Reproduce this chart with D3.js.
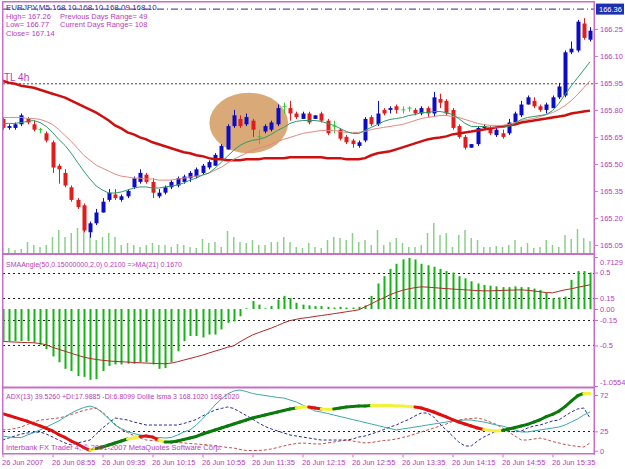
<!DOCTYPE html>
<html><head><meta charset="utf-8">
<script src="https://cdn.jsdelivr.net/npm/d3@7"></script>
<style>
body{margin:0;background:#fff}
svg{display:block}
text{font-family:"Liberation Sans",Arial,sans-serif}
</style>
</head><body><svg id="c" width="625" height="469"></svg>
<script>
// ---------------- DATA ----------------
const xLabels = ["26 Jun 2007","26 Jun 08:55","26 Jun 09:35","26 Jun 10:15","26 Jun 10:55","26 Jun 11:35","26 Jun 12:15","26 Jun 12:55","26 Jun 13:35","26 Jun 14:15","26 Jun 14:55","26 Jun 15:35"];
const xLabelBars = [0,8,16,24,32,40,48,56,64,72,80,88];

const open = [165.75,165.70,165.70,165.72,165.75,165.72,165.69,165.67,165.62,165.49,
165.45,165.37,165.30,165.27,165.12,165.17,165.23,165.30,165.33,165.30,
165.32,165.37,165.40,165.44,165.40,165.32,165.34,165.37,165.38,165.40,
165.42,165.43,165.45,165.48,165.49,165.53,165.58,165.71,165.75,165.72,
165.74,165.65,165.68,165.69,165.72,165.82,165.81,165.78,165.75,165.78,
165.75,165.78,165.74,165.71,165.69,165.65,165.63,165.60,165.63,165.76,
165.72,165.80,165.80,165.82,165.80,165.81,165.80,165.78,165.81,165.78,
165.86,165.85,165.80,165.71,165.65,165.59,165.61,165.70,165.70,165.66,
165.67,165.67,165.73,165.77,165.83,165.85,165.82,165.80,165.81,165.87,
165.88,166.12,166.13,166.28,166.19];
const high = [165.76,165.72,165.73,165.78,165.76,165.74,165.70,165.68,165.63,165.50,
165.47,165.38,165.31,165.28,165.18,165.25,165.31,165.36,165.36,165.33,
165.36,165.43,165.47,165.45,165.42,165.36,165.38,165.41,165.43,165.44,
165.46,165.48,165.50,165.52,165.56,165.61,165.72,165.80,165.77,165.78,
165.75,165.69,165.72,165.74,165.83,165.84,165.85,165.79,165.79,165.79,
165.77,165.79,165.75,165.74,165.70,165.66,165.64,165.63,165.76,165.77,
165.85,165.81,165.82,165.83,165.82,165.82,165.81,165.82,165.82,165.90,
165.89,165.86,165.81,165.72,165.66,165.61,165.71,165.72,165.71,165.70,
165.69,165.75,165.79,165.85,165.88,165.87,165.83,165.84,165.88,165.95,
166.13,166.18,166.30,166.31,166.26];
const low = [165.69,165.69,165.69,165.71,165.72,165.68,165.67,165.62,165.45,165.39,
165.37,165.29,165.25,165.12,165.09,165.16,165.23,165.29,165.30,165.29,
165.31,165.36,165.39,165.39,165.31,165.31,165.33,165.36,165.37,165.39,
165.40,165.42,165.44,165.47,165.49,165.52,165.58,165.70,165.70,165.71,
165.65,165.61,165.67,165.68,165.71,165.78,165.74,165.75,165.75,165.72,
165.75,165.73,165.66,165.67,165.63,165.61,165.59,165.59,165.62,165.71,
165.71,165.77,165.78,165.78,165.78,165.79,165.77,165.77,165.76,165.76,
165.81,165.77,165.69,165.64,165.58,165.59,165.60,165.69,165.66,165.65,
165.64,165.66,165.72,165.76,165.83,165.81,165.79,165.78,165.81,165.86,
165.87,166.11,166.12,166.19,166.18];
const close = [165.70,165.71,165.72,165.77,165.73,165.69,165.69,165.63,165.48,165.47,
165.38,165.30,165.26,165.13,165.17,165.23,165.29,165.34,165.31,165.32,
165.35,165.42,165.45,165.40,165.34,165.34,165.37,165.40,165.42,165.43,
165.45,165.47,165.49,165.51,165.55,165.60,165.71,165.77,165.71,165.76,
165.69,165.65,165.71,165.73,165.81,165.82,165.78,165.76,165.78,165.73,
165.77,165.74,165.67,165.71,165.64,165.62,165.61,165.62,165.75,165.72,
165.78,165.78,165.81,165.80,165.80,165.81,165.78,165.81,165.78,165.87,
165.84,165.78,165.70,165.65,165.59,165.61,165.70,165.71,165.67,165.69,
165.65,165.73,165.78,165.83,165.87,165.82,165.80,165.83,165.87,165.93,
166.12,166.14,166.29,166.20,166.24];
const volume = [6,5,3,4,11,8,6,8,16,23,
16,20,25,23,20,13,16,20,16,8,
10,8,6,8,10,8,8,6,9,8,
6,5,14,10,11,6,22,16,11,10,
13,8,8,11,11,16,11,6,5,10,
6,5,13,16,15,13,20,11,13,8,
23,8,11,15,10,6,6,8,20,30,
18,20,6,18,23,15,13,6,6,7,
6,8,13,6,10,5,6,13,8,6,
18,14,24,15,12];
const maFast = [165.725,165.725,165.725,165.730,165.736,165.741,165.730,165.708,165.675,165.636,
165.603,165.559,165.509,165.460,165.416,165.377,165.355,165.338,165.338,165.344,
165.355,165.366,165.372,165.372,165.366,165.366,165.372,165.377,165.383,165.394,
165.410,165.421,165.438,165.449,165.476,165.509,165.543,165.576,165.603,165.620,
165.631,165.636,165.647,165.664,165.686,165.703,165.725,165.736,165.741,165.741,
165.741,165.736,165.725,165.714,165.697,165.680,165.669,165.669,165.686,165.703,
165.719,165.736,165.747,165.752,165.758,165.769,165.774,165.785,165.785,165.791,
165.791,165.785,165.774,165.752,165.725,165.708,165.708,165.708,165.703,165.703,
165.703,165.708,165.725,165.747,165.758,165.763,165.769,165.774,165.796,165.835,
165.885,165.934,165.978,166.022,166.067];
const maMid = [165.758,165.758,165.758,165.758,165.752,165.752,165.747,165.736,165.719,165.691,
165.658,165.625,165.587,165.548,165.520,165.493,165.476,165.460,165.443,165.432,
165.427,165.421,165.421,165.416,165.416,165.410,165.410,165.410,165.416,165.421,
165.427,165.432,165.438,165.449,165.465,165.482,165.504,165.526,165.543,165.559,
165.576,165.587,165.598,165.609,165.625,165.636,165.647,165.658,165.669,165.675,
165.680,165.686,165.686,165.686,165.680,165.675,165.675,165.675,165.680,165.691,
165.697,165.703,165.708,165.714,165.719,165.730,165.741,165.752,165.758,165.763,
165.769,165.769,165.763,165.758,165.747,165.736,165.725,165.719,165.714,165.714,
165.714,165.719,165.730,165.741,165.747,165.752,165.763,165.774,165.785,165.802,
165.824,165.851,165.885,165.923,165.962];
const maSlow = [165.962,165.951,165.945,165.934,165.929,165.923,165.912,165.901,165.890,165.879,
165.868,165.851,165.835,165.818,165.802,165.785,165.763,165.741,165.714,165.697,
165.675,165.664,165.647,165.636,165.620,165.609,165.598,165.587,165.576,165.565,
165.559,165.548,165.543,165.532,165.526,165.526,165.520,165.520,165.520,165.526,
165.526,165.526,165.532,165.532,165.532,165.532,165.537,165.537,165.537,165.537,
165.537,165.537,165.532,165.532,165.532,165.526,165.526,165.526,165.532,165.548,
165.559,165.565,165.570,165.581,165.592,165.603,165.614,165.625,165.636,165.642,
165.647,165.653,165.664,165.669,165.675,165.680,165.686,165.691,165.697,165.703,
165.708,165.714,165.719,165.730,165.736,165.741,165.747,165.752,165.758,165.763,
165.769,165.780,165.785,165.791,165.796];
const lastPrice = 166.36;
const trendLevel = 165.945;
const priceTicks = [166.25,166.10,165.95,165.80,165.65,165.50,165.35,165.20,165.05];
// highlighted ellipse anchors (bar index / price)
const ellipseBars = [33.1, 45.7];
const ellipsePrices = [165.895, 165.559];

const smaAngle = [-0.44,-0.44,-0.44,-0.44,-0.44,-0.46,-0.49,-0.55,-0.65,-0.73,
-0.82,-0.85,-0.92,-0.93,-0.97,-0.96,-0.85,-0.78,-0.76,-0.76,
-0.75,-0.75,-0.73,-0.73,-0.76,-0.82,-0.81,-0.73,-0.58,-0.44,
-0.37,-0.37,-0.39,-0.35,-0.35,-0.28,-0.19,-0.17,-0.10,0.01,
0.11,0.06,0.01,0.04,0.13,0.18,0.15,0.085,0.06,0.05,
0.04,0.04,0.03,0.02,0.03,0.02,0.02,0.03,0.05,0.18,
0.35,0.45,0.55,0.62,0.68,0.70,0.68,0.62,0.60,0.58,
0.55,0.52,0.50,0.45,0.42,0.38,0.35,0.33,0.32,0.31,
0.30,0.30,0.31,0.30,0.30,0.28,0.26,0.22,0.15,0.16,
0.17,0.40,0.52,0.52,0.50];
const smaAngleMA = [-0.445,-0.449,-0.453,-0.458,-0.46,-0.463,-0.473,-0.49,-0.525,-0.552,
-0.579,-0.607,-0.634,-0.659,-0.678,-0.692,-0.703,-0.712,-0.718,-0.723,
-0.727,-0.733,-0.737,-0.741,-0.745,-0.748,-0.751,-0.741,-0.723,-0.70,
-0.678,-0.655,-0.632,-0.604,-0.577,-0.552,-0.525,-0.504,-0.449,-0.401,
-0.356,-0.323,-0.292,-0.262,-0.227,-0.189,-0.159,-0.141,-0.126,-0.116,
-0.101,-0.09,-0.077,-0.064,-0.052,-0.038,-0.025,-0.011,0.03,0.071,
0.115,0.153,0.195,0.229,0.256,0.277,0.293,0.304,0.30,0.293,
0.286,0.279,0.274,0.268,0.263,0.258,0.252,0.249,0.249,0.252,
0.255,0.258,0.26,0.263,0.256,0.247,0.236,0.225,0.222,0.242,
0.263,0.277,0.297,0.315,0.332];
const smaTicks = [0.7129,0.5,0.15,0,-0.15,-0.5,-1.0554];
const smaTickLabels = ["0.7129","0.5","0.15","0.00","-0.15","-0.5","-1.0554"];
const smaLevels = [0.5,0.15,-0.15,-0.5];

const lsmaLine = [48,45.5,43,40.5,38,35,32,29,25.5,20.9,
17.1,12.5,8.7,4.1,0.5,2.8,4.8,7.4,10,12.5,
15.1,16.4,18.4,19,17.7,13.8,11.2,11.2,12.5,14.5,
16.4,18.4,21.6,24.2,26.8,29.3,31.9,34.5,37.1,39.7,
42.3,44.2,46.1,48.1,50,52,53.9,55.2,56.5,56.5,
55.2,53.9,53.3,53.9,55.2,56.5,57.2,57.8,57.8,58.5,
58.5,58.5,58.5,57.8,57.8,57.2,56.5,55.2,52.6,50,
46.8,43.6,40.3,37.1,34.5,31.9,29.3,27.4,26.1,25.5,
26.1,28,30,32,34,37,40,44,47,51,
57,64,71,74,74];
const lsmaTrend = "rrrrrrrrrrrrrrrygggggyyrrrygggggggggggggggggggggyyrryyggggggyyyyyyyrrrrrrrrrrryyygggggggggggggyr".split("");
const adxMain = [19,17.7,17.1,17.1,20.3,23.5,26.8,30.6,34.5,38.4,
43.6,48.7,52.6,55.8,57.8,55.2,48.7,41,33.2,28.7,
24.8,22.2,20.3,18.4,17.7,17.1,16.4,17.1,20.3,24.2,
26.8,33.2,41,50,59.1,66.8,73.3,77.2,78.5,76.5,
73.9,72.6,71.4,70.1,68.8,68.1,65.5,63,59.1,55.2,
51.3,50,48.1,46.1,44.2,42.3,40.3,38.4,36.5,34.5,
32.6,30.6,28.7,26.8,28.1,29.3,30.6,31.9,33.2,34.5,
35.8,37.1,38.4,39,39.7,39.7,38.4,37.1,35.2,33.2,
31.9,29.3,26.8,24.2,24.2,25.5,26.8,28.1,29.3,30.6,
33.2,37.1,41,46.1,50];
const plusDI = [13.8,16.4,19,21.6,22.9,23.5,24.2,21.6,17.7,13.8,
10,7.4,10,11.9,13.8,21.6,29.3,35.8,42.3,41,
39.7,37.1,35.2,33.2,33.2,33.2,33.2,33.2,33.2,35.2,
37.7,40.3,44.9,48.7,52.6,54.6,56.5,54.6,50,45.5,
41,35.8,31.3,28.1,25.5,22.9,20.3,19,17.7,16.4,
15.1,13.8,13.8,13.8,13.8,13.8,15.1,17.7,19,21.6,
24.2,27.4,30.6,33.2,37.1,40.3,44.9,48.7,48.7,43.6,
34.5,26.8,19,11.2,6.1,6.1,12.5,17.7,21.6,25.5,
26.8,25.5,24.2,25.5,29.3,31.9,33.2,35.8,38.4,39.7,
44.9,50,53.9,55.2,42.3];
const minusDI = [26.8,27.4,28.7,30.6,33.9,37.1,39.7,40.3,41.6,42.3,
44.2,46.8,49.4,52,53.9,54.6,50,42.3,34.5,27.4,
23.5,19.6,16.4,13.8,13.2,12.5,11.9,11.2,10.6,10,
9.3,8.7,8,7.4,6.7,5.4,4.1,3.5,1.6,0.3,
0.2,0.3,0.9,2.2,4.1,6.1,8,9.3,10,9.3,
8.7,8.7,10,11.2,12.5,13.8,12.5,11.2,10,10.6,
11.9,13.2,13.8,15.1,17.1,19,21.6,24.2,26.8,29.3,
31.9,34.5,37.7,39.7,41,41.6,42.3,40.3,37.1,33.9,
29.3,24.2,19,13.8,13.8,15.1,16.4,14.5,11.9,10,
8,6.7,5.4,4.8,10];
const adxTicks = [72,25,0];
const adxLevel = 25;

// ---------------- DRAW ----------------
const FRAME = "#c86ec8", TXT = "#b83cb8";
const svg = d3.select("#c");
svg.append("rect").attr("width",625).attr("height",469).attr("fill","#fff");

const N = open.length;
const x = d3.scaleLinear().domain([0, N-1]).range([2.5, 590]);
const y1 = d3.scaleLinear().domain([165.05, 166.36]).range([244.9, 9.1]);
const yv = d3.scaleLinear().domain([0, 40]).range([253, 213]);
const y2 = d3.scaleLinear().domain([-1.0554, 0.7129]).range([386, 257]);
const y3 = d3.scaleLinear().domain([0, 72]).range([450.7, 395]);

const defs = svg.append("defs");
function clip(id, y0, y1_){
  defs.append("clipPath").attr("id",id).append("rect")
    .attr("x",3).attr("y",y0).attr("width",591).attr("height",y1_-y0);
  return svg.append("g").attr("clip-path",`url(#${id})`);
}
const g1 = clip("p1", 2, 253);
const g2 = clip("p2", 255, 386.5);
const g3 = clip("p3", 388.5, 453.5);

// ---- Top panel
g1.append("ellipse")
  .attr("cx",(x(ellipseBars[0])+x(ellipseBars[1]))/2)
  .attr("cy",(y1(ellipsePrices[0])+y1(ellipsePrices[1]))/2)
  .attr("rx",(x(ellipseBars[1])-x(ellipseBars[0]))/2)
  .attr("ry",(y1(ellipsePrices[1])-y1(ellipsePrices[0]))/2)
  .attr("fill","#d9aa78");

g1.append("line").attr("x1",3).attr("x2",594).attr("y1",y1(lastPrice)).attr("y2",y1(lastPrice))
  .attr("stroke","#2a2a8c").attr("stroke-width",1).attr("stroke-dasharray","7,3,1,3");
g1.append("line").attr("x1",3).attr("x2",594).attr("y1",y1(trendLevel)).attr("y2",y1(trendLevel))
  .attr("stroke","#444").attr("stroke-width",1).attr("stroke-dasharray","2,2");

g1.selectAll("rect.vol").data(volume).join("rect").attr("class","vol")
  .attr("x",(d,i)=>x(i)-0.75).attr("width",1.5)
  .attr("y",d=>yv(d)).attr("height",d=>yv(0)-yv(d))
  .attr("fill","#8ccf8c");

const idx = d3.range(N);
function candleColor(i){ return close[i]>open[i] ? "#0c0cc4" : (close[i]<open[i] ? "#e01c1c" : "#30cc30"); }
g1.selectAll("line.wick").data(idx).join("line").attr("class","wick")
  .attr("x1",i=>Math.round(x(i))+0.5).attr("x2",i=>Math.round(x(i))+0.5)
  .attr("y1",i=>y1(high[i])).attr("y2",i=>y1(low[i]))
  .attr("stroke",candleColor).attr("stroke-width",1);
g1.selectAll("rect.body").data(idx.filter(i=>close[i]!==open[i])).join("rect").attr("class","body")
  .attr("x",i=>Math.round(x(i))-1.5).attr("width",4)
  .attr("y",i=>y1(Math.max(open[i],close[i])))
  .attr("height",i=>Math.max(1,y1(Math.min(open[i],close[i]))-y1(Math.max(open[i],close[i]))))
  .attr("fill",candleColor);
g1.selectAll("line.doji").data(idx.filter(i=>close[i]===open[i])).join("line").attr("class","doji")
  .attr("x1",i=>Math.round(x(i))-1.5).attr("x2",i=>Math.round(x(i))+2.5)
  .attr("y1",i=>y1(open[i])).attr("y2",i=>y1(open[i]))
  .attr("stroke",candleColor).attr("stroke-width",1);

const line1 = arr => d3.line().x((d,i)=>x(i)).y(d=>y1(d))(arr);
g1.append("path").attr("d",line1(maSlow)).attr("fill","none").attr("stroke","#cc1010").attr("stroke-width",2.5);
g1.append("path").attr("d",line1(maMid)).attr("fill","none").attr("stroke","#e08a80").attr("stroke-width",1);
g1.append("path").attr("d",line1(maFast)).attr("fill","none").attr("stroke","#2f9a6a").attr("stroke-width",1);

// ---- Middle panel
smaLevels.forEach(v=>{
  g2.append("line").attr("x1",3).attr("x2",594).attr("y1",Math.round(y2(v))+0.5).attr("y2",Math.round(y2(v))+0.5)
    .attr("stroke","#222").attr("stroke-dasharray","2,3");
});
g2.selectAll("rect.h").data(smaAngle).join("rect").attr("class","h")
  .attr("x",(d,i)=>Math.round(x(i))-0.5).attr("width",2)
  .attr("y",d=>Math.min(y2(d),y2(0))).attr("height",d=>Math.max(0.8,Math.abs(y2(d)-y2(0))))
  .attr("fill","#14b414");
g2.append("path").attr("d",d3.line().x((d,i)=>x(i)).y(d=>y2(d))(smaAngleMA))
  .attr("fill","none").attr("stroke","#b02828").attr("stroke-width",1);

// ---- Bottom panel
g3.append("line").attr("x1",3).attr("x2",594).attr("y1",Math.round(y3(adxLevel))+0.5).attr("y2",Math.round(y3(adxLevel))+0.5)
  .attr("stroke","#222").attr("stroke-dasharray","2,3");
const line3 = arr => d3.line().x((d,i)=>x(i)).y(d=>y3(d))(arr);
g3.append("path").attr("d",line3(minusDI)).attr("fill","none").attr("stroke","#c0504a").attr("stroke-dasharray","3,2");
g3.append("path").attr("d",line3(plusDI)).attr("fill","none").attr("stroke","#2a2a90").attr("stroke-dasharray","3,2");
g3.append("path").attr("d",line3(adxMain)).attr("fill","none").attr("stroke","#3aaaa8").attr("stroke-width",1);
const trendCol = {r:"#e01010", y:"#f2f23a", g:"#0a7a0a"};
g3.selectAll("line.ls").data(d3.range(1,N)).join("line").attr("class","ls")
  .attr("x1",i=>x(i-1)).attr("x2",i=>x(i)).attr("y1",i=>y3(lsmaLine[i-1])).attr("y2",i=>y3(lsmaLine[i]))
  .attr("stroke",i=>trendCol[lsmaTrend[i]]).attr("stroke-width",3).attr("stroke-linecap","round");

// ---- Frame
const fr = svg.append("g").attr("fill",FRAME);
fr.append("rect").attr("x",2).attr("y",1).attr("width",593).attr("height",1.5);
fr.append("rect").attr("x",2).attr("y",253).attr("width",593).attr("height",2);
fr.append("rect").attr("x",2).attr("y",386.5).attr("width",593).attr("height",2);
fr.append("rect").attr("x",2).attr("y",453).attr("width",593).attr("height",1.5);
fr.append("rect").attr("x",2).attr("y",1).attr("width",1.5).attr("height",453.5);
fr.append("rect").attr("x",593.5).attr("y",1).attr("width",1.5).attr("height",453.5);

// ---- Axes
function styleAxis(sel){
  sel.select(".domain").remove();
  sel.selectAll(".tick line").attr("stroke",FRAME);
  sel.selectAll(".tick text").attr("fill",TXT).style("font-size","7.5px").style("font-family","Liberation Sans, Arial, sans-serif");
}
const a1 = svg.append("g").attr("transform","translate(595,0)")
  .call(d3.axisRight(y1).tickValues(priceTicks).tickSize(3).tickPadding(2).tickFormat(d3.format(".2f")));
styleAxis(a1);
// last price box
const lp = svg.append("g");
lp.append("rect").attr("x",596).attr("y",y1(lastPrice)-5.5).attr("width",28).attr("height",11).attr("fill","#1c30b0");
lp.append("text").attr("x",599).attr("y",y1(lastPrice)).attr("dy","0.35em").attr("fill","#fff")
  .style("font-size","7.5px").text(lastPrice.toFixed(2));

const a2 = svg.append("g").attr("transform","translate(595,0)")
  .call(d3.axisRight(y2).tickValues(smaTicks).tickSize(3).tickPadding(2).tickFormat((d,i)=>smaTickLabels[i]));
styleAxis(a2);
a2.selectAll(".tick").filter(d=>d===smaTicks[0]).select("text").attr("dy","0.95em");
a2.selectAll(".tick").filter(d=>d===smaTicks[smaTicks.length-1]).select("text").attr("dy","-0.2em");

const a3 = svg.append("g").attr("transform","translate(595,0)")
  .call(d3.axisRight(y3).tickValues(adxTicks).tickSize(3).tickPadding(2).tickFormat(d3.format("d")));
styleAxis(a3);

const ax = svg.append("g").attr("transform","translate(0,454.5)")
  .call(d3.axisBottom(x).tickValues(xLabelBars).tickSize(3).tickPadding(2).tickFormat((d,i)=>xLabels[i]));
ax.select(".domain").remove();
ax.selectAll(".tick line").attr("stroke",FRAME);
ax.selectAll(".tick text").attr("fill",TXT).attr("text-anchor","start").attr("x",-1)
  .style("font-size","7.5px");

// ---- Texts
const T = (tx,ty,s,size,col)=>svg.append("text").attr("x",tx).attr("y",ty).attr("fill",col||TXT).style("font-size",size+"px").text(s);
T(6,10,"EURJPY,M5 168.10 168.10 168.09 168.10",8,"#3c2c90");
T(6,18.5,"High= 167.26",7.5);
T(60,18.5,"Previous Days Range= 49",7.5);
T(6,27,"Low= 166.77",7.5);
T(60,27,"Current Days Range= 108",7.5);
T(6,35.5,"Close= 167.14",7.5);
T(4,81,"TL 4h",10,"#b040b0");
T(6,266.5,"SMAAngle(50,0.15000000,2,0) 0.2100  =>MA(21) 0.1670",7);
T(6,398.5,"ADX(13) 39.5260 +DI:17.9885 -DI:6.8099  Dollie lsma 3 168.1020 168.1020",7);
T(6,450,"Interbank FX Trader 4, \u00a9 2001-2007 MetaQuotes Software Corp.",7.5);
</script>
</body></html>
